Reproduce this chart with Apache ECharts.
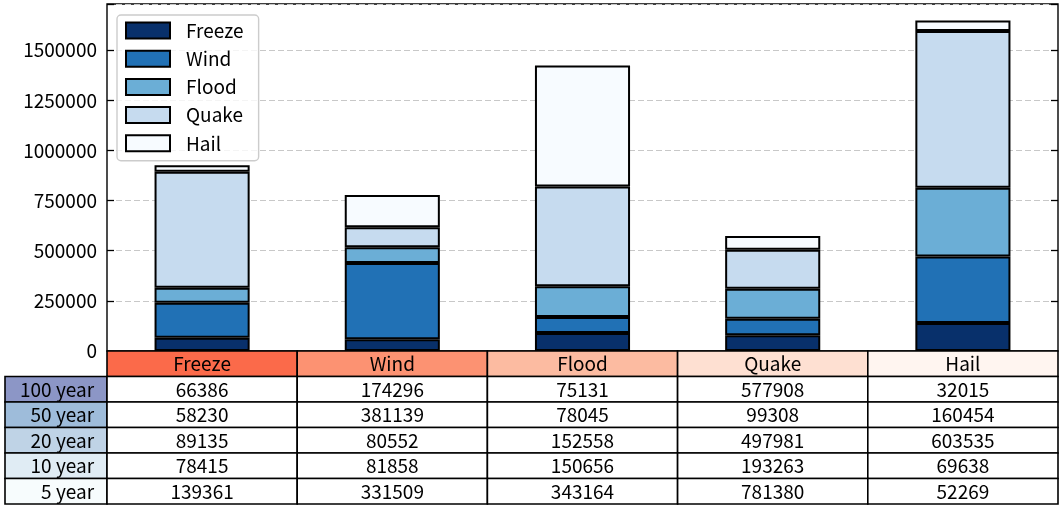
<!DOCTYPE html>
<html><head><meta charset="utf-8">
<script src="https://cdn.jsdelivr.net/npm/echarts@6/dist/echarts.min.js"></script>
<style>html,body{margin:0;padding:0;background:#fff}#c{width:1064px;height:511px}</style>
</head><body><div id="c"></div>
<script>
const columns = ['Freeze', 'Wind', 'Flood', 'Quake', 'Hail'];
const rowLabels = ['100 year', '50 year', '20 year', '10 year', '5 year'];
const row100 = [66386, 174296, 75131, 577908, 32015];
const row50 = [58230, 381139, 78045, 99308, 160454];
const row20 = [89135, 80552, 152558, 497981, 603535];
const row10 = [78415, 81858, 150656, 193263, 69638];
const row5 = [139361, 331509, 343164, 781380, 52269];
const tableRows = [row100, row50, row20, row10, row5];
const yMax = 1730067;
const yInterval = 250000;
const seriesColors = ['#08306b', '#2171b5', '#6baed6', '#c6dbef', '#f7fbff'];
const headerColors = ['#fb6a4a', '#fc9272', '#fcbba1', '#fee0d2', '#fff5f0'];
const rowColors = ['#8c96c6', '#9ebcda', '#bfd3e6', '#e0ecf4', '#f7fcfd'];

const FONT = '"Noto Sans CJK SC", "Noto Sans", sans-serif';
const FS = 19;

const chart = echarts.init(document.getElementById('c'), null, {renderer: 'canvas'});

const series = columns.map((name, k) => ({
  name: name,
  type: 'bar',
  stack: 'total',
  barWidth: '50%',
  data: tableRows.map(r => r[k]),
  itemStyle: {color: seriesColors[k], borderColor: '#000', borderWidth: 2},
  emphasis: {disabled: true}
}));

const option = {
  animation: false,
  backgroundColor: '#fff',
  grid: {left: 107, right: 6, top: 4, bottom: 160, show: true, borderColor: '#000', borderWidth: 1.4, backgroundColor: 'transparent'},
  legend: {
    orient: 'vertical', left: 117, top: 15,
    padding: [6, 15, 8, 8],
    itemWidth: 44, itemHeight: 16, itemGap: 9.2,
    backgroundColor: 'rgba(255,255,255,0.8)',
    borderColor: '#cccccc', borderWidth: 1.4, borderRadius: 4,
    textStyle: {fontFamily: FONT, fontSize: FS, color: '#000', lineHeight: 16, padding: [0, 0, 0, 11]},
    data: columns.map(n => ({name: n, icon: 'rect'}))
  },
  xAxis: {
    type: 'category', data: columns,
    axisLine: {show: false}, axisTick: {show: false}, axisLabel: {show: false}, splitLine: {show: false}
  },
  yAxis: [{
    type: 'value', min: 0, max: yMax, interval: yInterval,
    axisLine: {show: false},
    axisTick: {show: true, inside: true, length: 7, lineStyle: {color: '#000', width: 1.3}},
    axisLabel: {fontFamily: FONT, fontSize: FS, color: '#000', margin: 10,
      formatter: v => (v % yInterval === 0 && v <= yMax) ? String(v) : ''},
    splitLine: {show: true, lineStyle: {color: '#c8c8c8', type: [6, 3], width: 1.2}}
  }, {
    type: 'value', position: 'right', min: 0, max: yMax, interval: yInterval,
    axisLine: {show: false},
    axisTick: {show: true, inside: true, length: 7, lineStyle: {color: '#000', width: 1.3}},
    axisLabel: {show: false}, splitLine: {show: false}
  }],
  series: series
};
chart.setOption(option);

// Table below the plot, aligned to the category bands
const cx = columns.map(c => chart.convertToPixel({xAxisIndex: 0}, c));
const bw = cx[1] - cx[0];
const y0 = chart.convertToPixel({yAxisIndex: 0}, 0);
const left = cx[0] - bw / 2;
const rh = 25.5;
const labelW = 102;
const els = [];
const textStyle = (t, extra) => Object.assign({text: t, fontFamily: FONT, fontSize: FS, fill: '#000', align: 'center', verticalAlign: 'middle'}, extra || {});
columns.forEach((c, i) => {
  els.push({type: 'rect', z: 100, shape: {x: left + i * bw, y: y0, width: bw, height: rh}, style: {fill: headerColors[i], stroke: '#000', lineWidth: 1.6}});
});
tableRows.forEach((r, j) => {
  const y = y0 + rh * (j + 1);
  els.push({type: 'rect', z: 100, shape: {x: left - labelW, y: y, width: labelW, height: rh}, style: {fill: rowColors[j], stroke: '#000', lineWidth: 1.6}});
  r.forEach((v, i) => {
    els.push({type: 'rect', z: 100, shape: {x: left + i * bw, y: y, width: bw, height: rh}, style: {fill: '#fff', stroke: '#000', lineWidth: 1.6}});
  });
});
columns.forEach((c, i) => {
  els.push({type: 'text', z: 101, x: left + i * bw + bw / 2, y: y0 + rh / 2 + 0.5, style: textStyle(c)});
});
tableRows.forEach((r, j) => {
  const y = y0 + rh * (j + 1) + rh / 2 + 0.5;
  els.push({type: 'text', z: 101, x: left - 13, y: y, style: textStyle(rowLabels[j], {align: 'right'})});
  r.forEach((v, i) => {
    els.push({type: 'text', z: 101, x: left + i * bw + bw / 2, y: y, style: textStyle(String(v))});
  });
});
chart.setOption({graphic: {elements: els}});
</script>
</body></html>
